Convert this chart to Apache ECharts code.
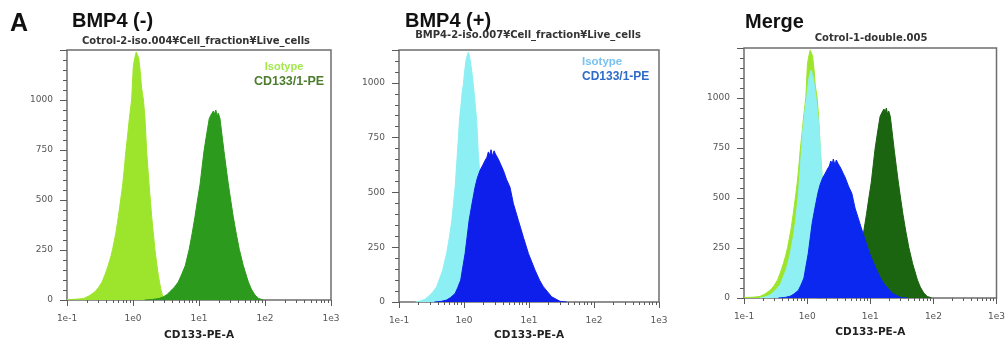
<!DOCTYPE html>
<html>
<head>
<meta charset="utf-8">
<script src="https://cdn.jsdelivr.net/npm/echarts@6/dist/echarts.min.js"></script>
<style>
  html, body { margin: 0; padding: 0; background: #fff; }
  #main { width: 1008px; height: 346px; }
</style>
</head>
<body>
<div id="main"></div>
<script>
// histogram outlines: [CD133-PE-A intensity, count]
const isotypeNeg = [
  [0.1, 2], [0.14, 4], [0.18, 8], [0.22, 22], [0.265, 41], [0.3, 62], [0.34, 90], [0.38, 130],
  [0.42, 172], [0.46, 215], [0.49, 253], [0.55, 335], [0.6, 417], [0.65, 500], [0.7, 580],
  [0.74, 660], [0.78, 744], [0.83, 825], [0.88, 907], [0.92, 960], [0.955, 1005], [0.98, 1080],
  [1.01, 1168], [1.05, 1200], [1.09, 1225], [1.12, 1240], [1.15, 1250], [1.18, 1232], [1.22, 1210],
  [1.28, 1150], [1.35, 1060], [1.44, 1000], [1.52, 907], [1.61, 744], [1.68, 660], [1.75, 580],
  [1.83, 500], [1.92, 417], [2.03, 335], [2.15, 253], [2.28, 185], [2.42, 123], [2.6, 65],
  [2.78, 25], [3.05, 4], [3.5, 0]
]
const cd133Neg = [
  [1.5, 0], [2.0, 3], [2.5, 8], [2.9, 16], [3.3, 28], [3.6, 41], [4.2, 62], [4.85, 90], [5.5, 130],
  [6.2, 172], [7.1, 253], [7.9, 335], [8.7, 417], [9.5, 500], [10.4, 580], [11.1, 660], [11.9, 744],
  [13.0, 825], [14.3, 907], [15.2, 925], [16.0, 915], [16.5, 945], [17.2, 930], [18.0, 950],
  [18.8, 920], [19.6, 935], [20.8, 907], [22.3, 825], [23.9, 744], [25.8, 660], [27.8, 580],
  [30.2, 500], [33, 417], [36.5, 335], [40.8, 253], [46.9, 172], [55.9, 90], [62, 55], [70.5, 25],
  [80, 8], [94, 0]
]
const isotypePos = [
  [0.18, 0], [0.21, 4], [0.25, 12], [0.28, 24], [0.33, 45], [0.38, 70], [0.42, 105], [0.47, 145],
  [0.54, 221], [0.6, 300], [0.65, 373], [0.69, 450], [0.73, 524], [0.76, 600], [0.79, 676],
  [0.82, 750], [0.85, 827], [0.9, 900], [0.94, 960], [0.98, 994], [1.02, 1050], [1.07, 1100],
  [1.12, 1125], [1.16, 1140], [1.2, 1130], [1.25, 1100], [1.32, 1050], [1.39, 994], [1.48, 910],
  [1.57, 827], [1.66, 676], [1.78, 560], [1.92, 440], [2.1, 320], [2.35, 200], [2.7, 100],
  [3.2, 35], [4, 8], [5, 0]
]
const cd133Pos = [
  [0.35, 0], [0.45, 3], [0.54, 9], [0.62, 20], [0.73, 39], [0.8, 65], [0.89, 100], [0.96, 160],
  [1.04, 221], [1.12, 300], [1.2, 373], [1.33, 450], [1.48, 524], [1.6, 565], [1.76, 600],
  [1.95, 625], [2.1, 645], [2.25, 660], [2.37, 685], [2.5, 670], [2.6, 695], [2.75, 665],
  [2.9, 690], [3.05, 675], [3.18, 680], [3.4, 650], [3.7, 625], [4.04, 600], [4.5, 560],
  [5.1, 524], [5.75, 449], [6.85, 373], [8.2, 295], [9.8, 221], [12.4, 145], [14.5, 100],
  [16.6, 70], [22.3, 24], [30, 3], [38, 0]
]

const decadeTicks = [0.1, 1, 10, 100, 1000]
const minorLogTicks = [
  0.2, 0.3, 0.4, 0.5, 0.6, 0.7, 0.8, 0.9,
  2, 3, 4, 5, 6, 7, 8, 9,
  20, 30, 40, 50, 60, 70, 80, 90,
  200, 300, 400, 500, 600, 700, 800, 900
]
const countTicks = [0, 250, 500, 750, 1000]

const panels = [
  {
    title: 'BMP4 (-)', titlePos: [72, 21],
    sub: 'Cotrol-2-iso.004¥Cell_fraction¥Live_cells', subPos: [196, 41],
    grid: { left: 67, top: 50, width: 264, height: 255 }, yMax: 1250, nameGap: 30,
    legend: [
      { text: 'Isotype', color: '#a3e84d', x: 284, y: 67, size: 11 },
      { text: 'CD133/1-PE', color: '#4c7c2e', x: 289, y: 82, size: 12.5 }
    ],
    legendAlign: 'center',
    series: [[isotypeNeg, '#9de52c'], [cd133Neg, '#2c9a1c']]
  },
  {
    title: 'BMP4 (+)', titlePos: [405, 21],
    sub: 'BMP4-2-iso.007¥Cell_fraction¥Live_cells', subPos: [528, 35],
    grid: { left: 399, top: 50, width: 260, height: 252 }, yMax: 1150, nameGap: 28,
    legend: [
      { text: 'Isotype', color: '#79c2ee', x: 582, y: 62, size: 11.5 },
      { text: 'CD133/1-PE', color: '#2f6cc8', x: 582, y: 76.5, size: 12 }
    ],
    legendAlign: 'left',
    series: [[isotypePos, '#8ceff3'], [cd133Pos, '#0f1feb']]
  },
  {
    title: 'Merge', titlePos: [745, 22],
    sub: 'Cotrol-1-double.005', subPos: [871, 38],
    grid: { left: 744, top: 48, width: 259, height: 250 }, yMax: 1250, nameGap: 29,
    legend: [],
    legendAlign: 'left',
    series: [[isotypeNeg, '#9de52c'], [isotypePos, '#8ef0f2'], [cd133Neg, '#1b6410'], [cd133Pos, '#0a28f0']]
  }
]

const myChart = echarts.init(document.getElementById('main'))

const graphic = [{
  type: 'text', x: 10, y: 24,
  style: { text: 'A', font: 'bold 25px "Liberation Sans"', fill: '#111', align: 'left', verticalAlign: 'middle' }
}]
panels.forEach((p) => {
  graphic.push({
    type: 'text', x: p.titlePos[0], y: p.titlePos[1],
    style: { text: p.title, font: 'bold 20px "Liberation Sans"', fill: '#111', align: 'left', verticalAlign: 'middle' }
  })
  graphic.push({
    type: 'text', x: p.subPos[0], y: p.subPos[1],
    style: { text: p.sub, font: 'bold 10px "DejaVu Sans"', fill: '#333', align: 'center', verticalAlign: 'middle' }
  })
  p.legend.forEach((l) => {
    graphic.push({
      type: 'text', x: l.x, y: l.y,
      style: { text: l.text, font: 'bold ' + l.size + 'px "Liberation Sans"', fill: l.color, align: p.legendAlign, verticalAlign: 'middle' }
    })
  })
})

const axisGray = '#5a5a5a'
const labelFont = { fontFamily: 'DejaVu Sans', fontSize: 9, color: '#555' }

const option = {
  animation: false,
  backgroundColor: '#fff',
  graphic,
  grid: panels.map((p) => ({ ...p.grid, show: true, borderColor: '#6e6e6e', borderWidth: 1.5 })),
  xAxis: [
    ...panels.map((p, i) => ({
      type: 'log', logBase: 10, gridIndex: i, min: 0.1, max: 1000, position: 'bottom',
      name: 'CD133-PE-A', nameLocation: 'middle', nameGap: p.nameGap,
      nameTextStyle: { fontFamily: 'DejaVu Sans', fontWeight: 'bold', fontSize: 10.5, color: '#222' },
      axisLine: { show: false },
      splitLine: { show: false },
      axisTick: { length: 6, customValues: decadeTicks, lineStyle: { color: axisGray } },
      axisLabel: {
        ...labelFont, margin: 14, customValues: decadeTicks,
        formatter: (v) => '1e' + Math.round(Math.log10(v))
      }
    })),
    ...panels.map((p, i) => ({
      type: 'log', logBase: 10, gridIndex: i, min: 0.1, max: 1000, position: 'bottom',
      axisLine: { show: false },
      splitLine: { show: false },
      axisLabel: { show: false },
      axisTick: { length: 3, customValues: minorLogTicks, lineStyle: { color: axisGray } }
    }))
  ],
  yAxis: panels.map((p, i) => ({
    type: 'value', gridIndex: i, min: 0, max: p.yMax, interval: 250,
    axisLine: { show: false },
    splitLine: { show: false },
    axisTick: { length: 7, lineStyle: { color: axisGray } },
    minorTick: { show: true, splitNumber: 5, length: 4, lineStyle: { color: axisGray } },
    axisLabel: { ...labelFont, margin: 14, customValues: countTicks, formatter: (v) => String(v) }
  })),
  series: panels.flatMap((p, i) => p.series.map(([data, color], k) => ({
    type: 'line',
    xAxisIndex: i,
    yAxisIndex: i,
    z: 2 + k,
    data,
    showSymbol: false,
    silent: true,
    lineStyle: { color, width: 1 },
    itemStyle: { color },
    areaStyle: { color, opacity: 1 }
  })))
}

myChart.setOption(option)
</script>
</body>
</html>
